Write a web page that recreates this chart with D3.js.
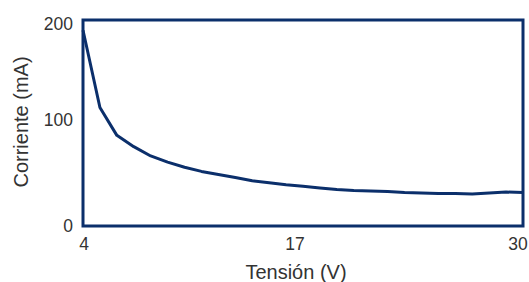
<!DOCTYPE html>
<html>
  <head>
    <meta charset="utf-8">
    <title></title>
  </head>
  <body style="margin:0">
  <style>
    body { background:#fff; }
    text { font-family:"Liberation Sans", Arial, sans-serif; fill:#333; }
    .tick { font-size:17.5px; }
    .title { font-size:20px; }
  </style>
  <svg id="chart" width="529" height="282"></svg>
  <script src="https://d3js.org/d3.v7.min.js"></script>
  <script>
    // voltage (V) and current (mA)
    var voltage = [4,5,6,7,8,9,10,11,12,13,14,15,16,17,18,19,20,21,22,23,24,25,26,27,28,29,30];
    var current = [190,115,88,77,68,62,57,53,50,47,44,42,40,38.5,37,35.5,34.5,34,33.5,32.5,32,31.5,31.5,31,32,33,32.5];
    var xTicks = [4,17,30];
    var yTicks = [0,100,200];

    var svg = d3.select('#chart');
    var plotL = 83, plotR = 523, plotT = 20, plotB = 226;

    var x = d3.scaleLinear().domain([4,30]).range([plotL,plotR]);
    var y = d3.scaleLinear().domain([0,200]).range([plotB,plotT]);
    var navy = '#0b2f6b';

    svg.append('path')
      .datum(voltage.map((v,i)=>[v,current[i]]))
      .attr('fill','none')
      .attr('stroke',navy)
      .attr('stroke-width',3)
      .attr('stroke-linejoin','round')
      .attr('d', d3.line().x(d=>x(d[0])).y(d=>y(d[1])));

    svg.append('rect')
      .attr('x',plotL).attr('y',plotT)
      .attr('width',plotR-plotL).attr('height',plotB-plotT)
      .attr('fill','none')
      .attr('stroke',navy)
      .attr('stroke-width',3);

    var ydy = {0:0, 100:-3, 200:4};
    svg.selectAll('.ytick').data(yTicks).enter().append('text')
      .attr('class','tick')
      .attr('x',73)
      .attr('y',d=>y(d)+ydy[d])
      .attr('dy','0.35em')
      .attr('text-anchor','end')
      .text(d=>d);

    var xdx = {4:1, 17:-8, 30:-5};
    svg.selectAll('.xtick').data(xTicks).enter().append('text')
      .attr('class','tick')
      .attr('x',d=>x(d)+xdx[d])
      .attr('y',250)
      .attr('text-anchor','middle')
      .text(d=>d);

    svg.append('text')
      .attr('class','title')
      .attr('x',296).attr('y',279)
      .attr('text-anchor','middle')
      .text('Tensión (V)');

    svg.append('text')
      .attr('class','title')
      .attr('transform','translate(28,122) rotate(-90)')
      .attr('text-anchor','middle')
      .text('Corriente (mA)');
  </script>
  </body>
</html>
